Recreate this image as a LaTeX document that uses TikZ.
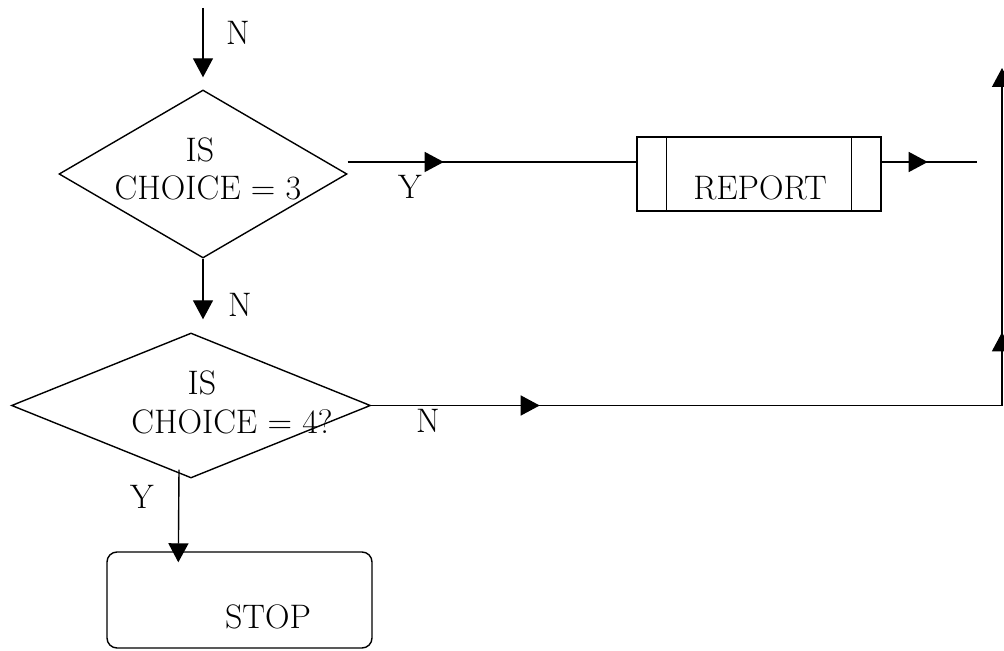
\documentclass[tikz,border=0pt]{standalone}
\usetikzlibrary{shapes, arrows.meta, calc, decorations.markings}

\begin{document}
\begin{tikzpicture}[
    x=0.5pt, y=-0.5pt,
    font=\fontsize{17}{20}\selectfont,
    line width=0.7pt,
    >={Triangle[length=9.5pt, width=10pt]},
    decision/.style={diamond, draw, inner sep=0pt},
    process/.style={rectangle, draw, inner sep=0pt, minimum width=122pt, minimum height=37pt},
    terminal/.style={rectangle, draw, inner sep=0pt, rounded corners=5pt, minimum width=132.5pt, minimum height=48pt},
    flow/.style={->},
    midarrow/.style={postaction={decorate}, decoration={markings, mark=at position #1 with {\arrow{>}}}}
]
\useasboundingbox (0,0) rectangle (1004,651);

% Decisions
\node[decision, minimum width=144pt, minimum height=84pt] (q3) at (203,174) {};
\node (q3is) at (200,150) {IS};
\node (q3txt) at (208,188) {CHOICE = 3};

\node[decision, minimum width=179.5pt, minimum height=72.5pt] (q4) at (191,405.5) {};
\node (q4is) at (202,383) {IS};
\node (q4txt) at (232,422) {CHOICE = 4?};

% Report
\node[process] (report) at (759,174) {};
\draw ([xshift=15pt]report.north west) -- ([xshift=15pt]report.south west);
\draw ([xshift=-15pt]report.north east) -- ([xshift=-15pt]report.south east);
\node (reporttxt) at (760,188) {REPORT};

% Stop
\node[terminal] (stop) at (239.5,600) {};
\node (stoptxt) at (268,617) {STOP};

% Free ends
\coordinate (entry) at (203,8);
\coordinate (repout) at (977,162);
\coordinate (corner) at (1002,405.5);
\coordinate (loopend) at (1002,68);

% Arrows
\draw[flow] (entry) -- ([yshift=6pt]q3.north);
\draw[flow] (q3.south) -- ($(q3.south |- q4.north)+(0,6.5pt)$);
\draw[midarrow=48pt] ([yshift=6pt]q3.east) -- ([yshift=6pt]report.west);
\draw[midarrow=23pt] ([yshift=6pt]report.east) -- (repout);
\draw[->, postaction={decorate}, decoration={markings,
    mark=at position 84.25pt with {\arrow{>}},
    mark=at position 352pt with {\arrow{>}}}]
    (q4.east) -- (corner) -- (loopend);
\draw[flow] ($(q4.south)+(-6pt,4.5pt)$) -- ($(stop.north west)+(36pt,-5.5pt)$);

% Labels
\node (ltop) at (238,33) {N};
\node (lq3y) at (410,187) {Y};
\node (lq3n) at (240,305) {N};
\node (lq4n) at (428,421) {N};
\node (lq4y) at (142,497) {Y};

\end{tikzpicture}
\end{document}
